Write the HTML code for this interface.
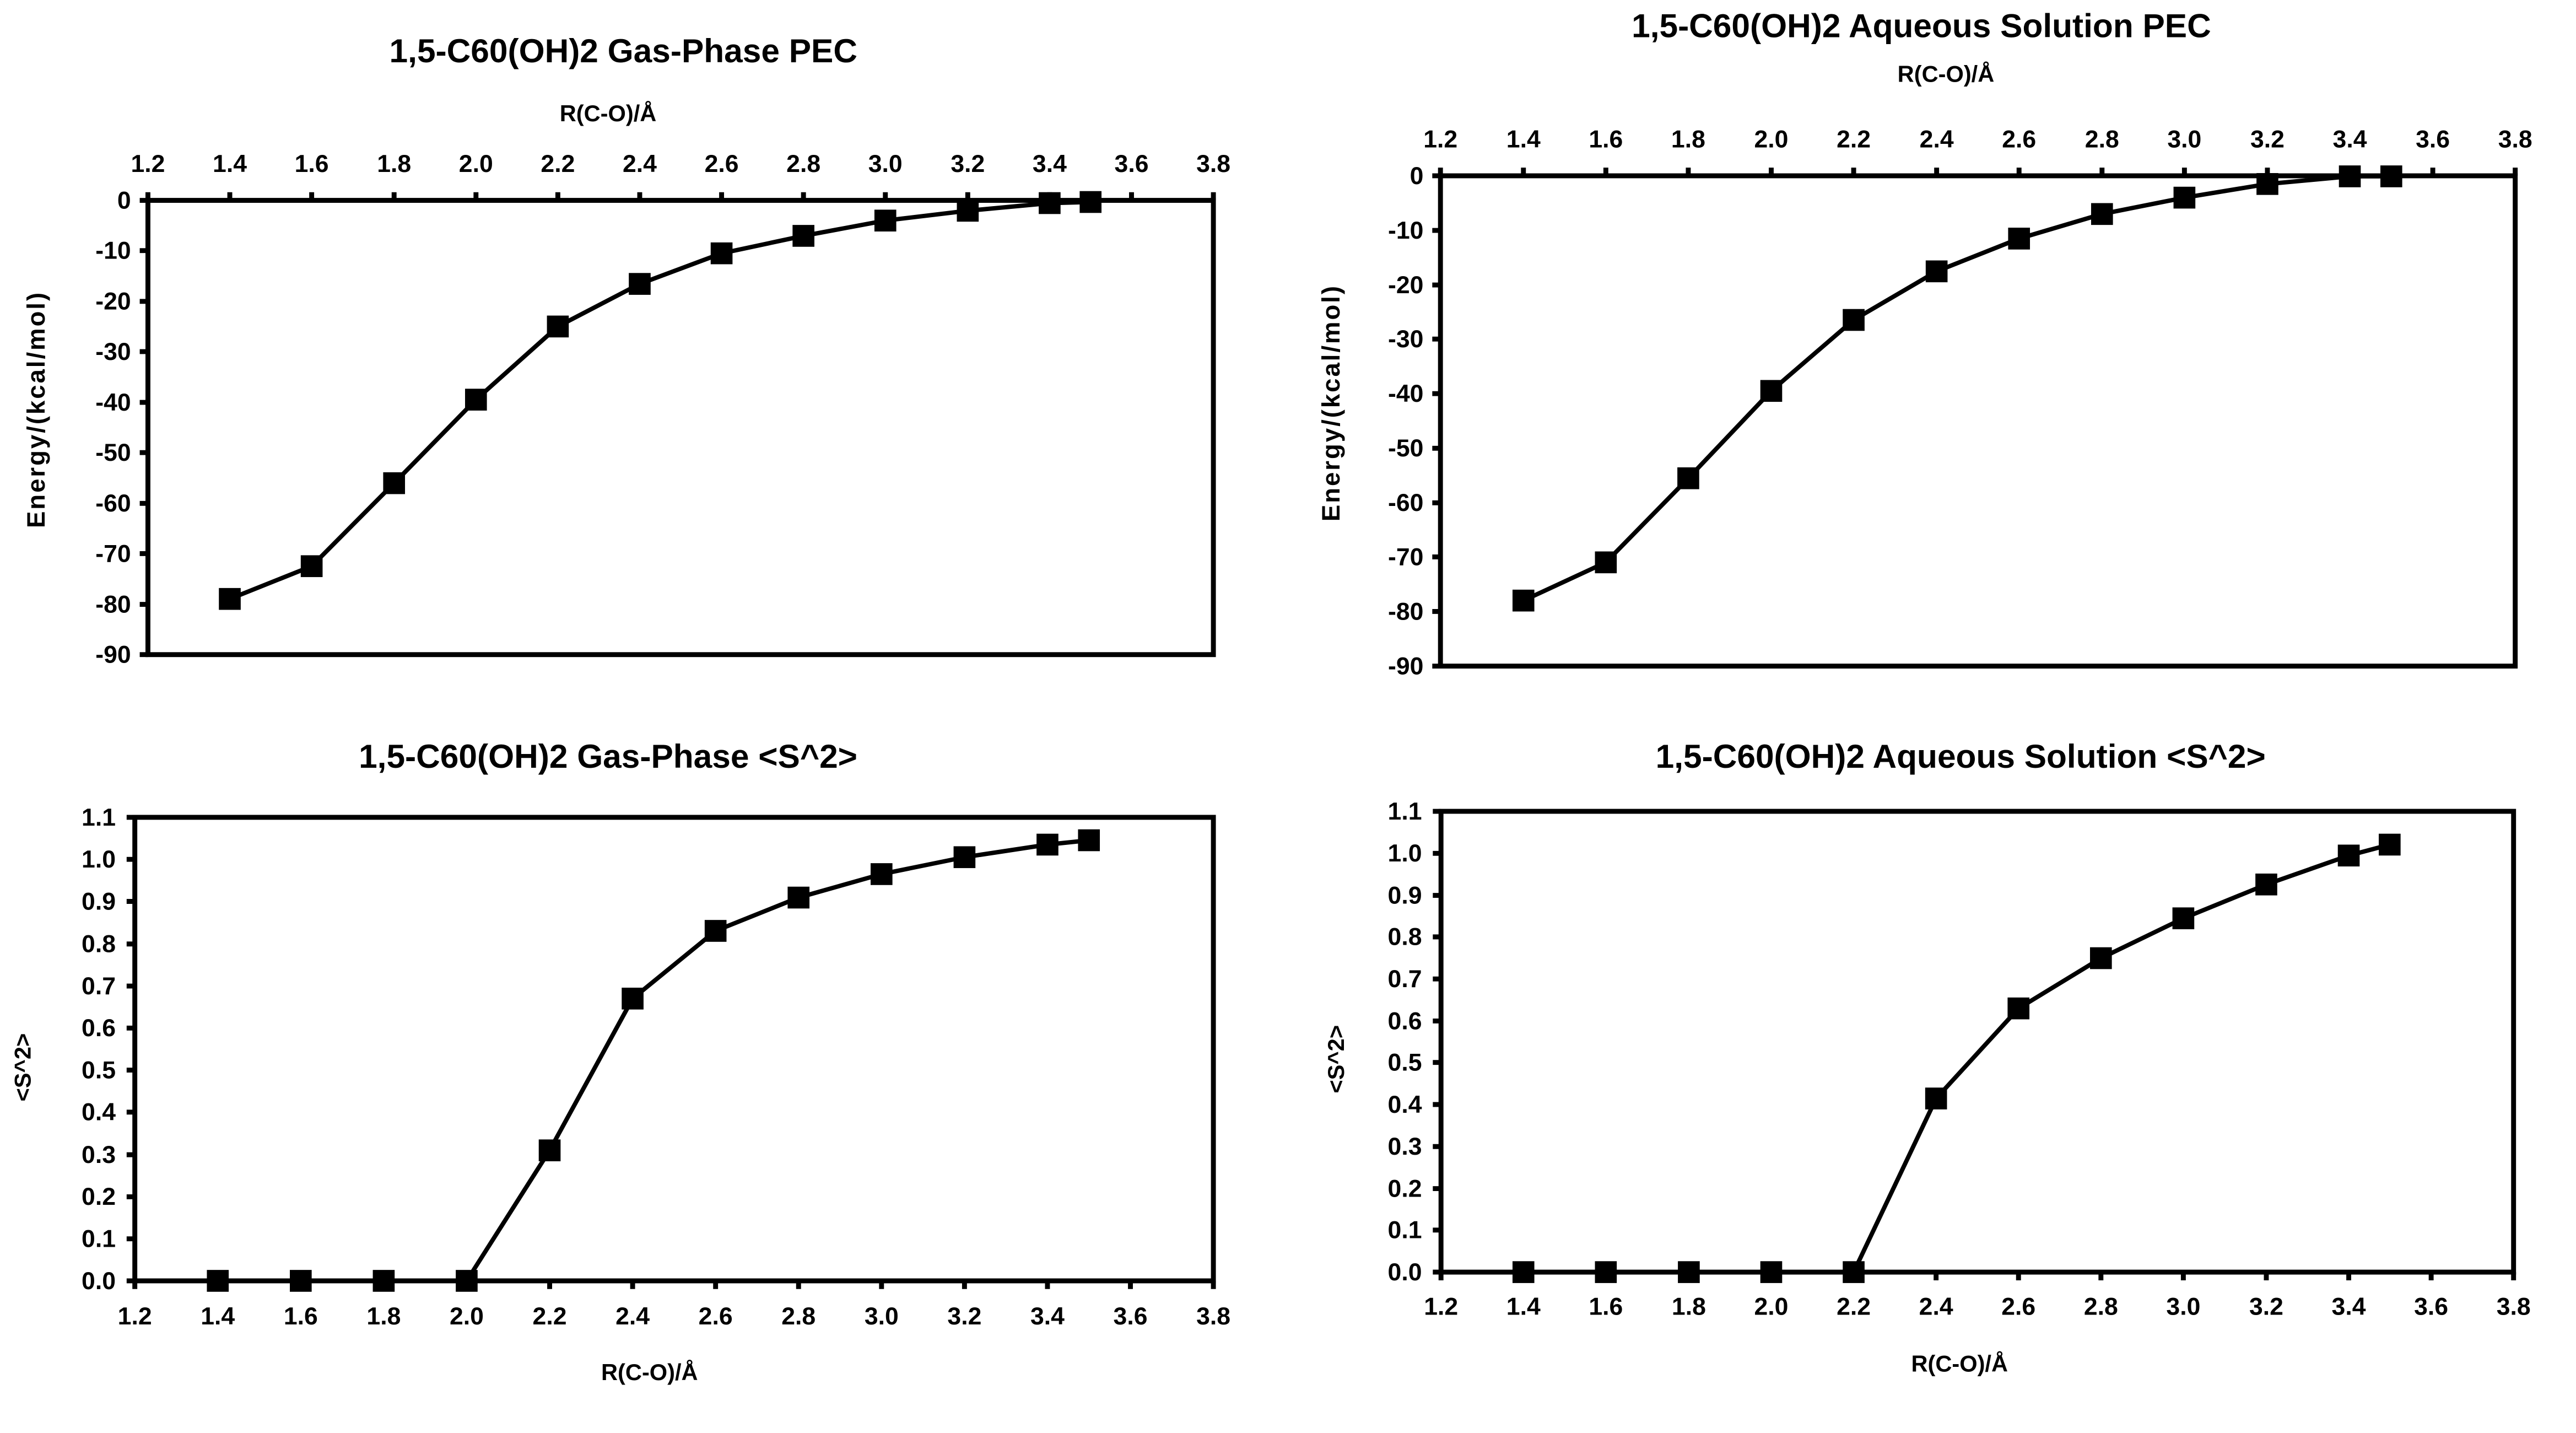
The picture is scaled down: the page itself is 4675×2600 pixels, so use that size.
<!DOCTYPE html>
<html><head><meta charset="utf-8"><style>
html,body{margin:0;padding:0;background:#fff;}
svg{display:block;}
text{font-family:"Liberation Sans",sans-serif;font-weight:bold;fill:#000;}
.t{font-size:61px;}
.k{font-size:45px;}
.a{font-size:42px;}
.e{font-size:46px;letter-spacing:3px;}
</style></head><body>
<svg width="4675" height="2600" viewBox="0 0 4675 2600" xmlns="http://www.w3.org/2000/svg">
<defs><rect id="m" x="-20" y="-20" width="40" height="40" fill="#000"/></defs>
<g transform="scale(0.9906)">
<!-- TL -->
<text class="t" x="1142" y="114" text-anchor="middle">1,5-C60(OH)2 Gas-Phase PEC</text>
<text class="a" x="1114" y="222" text-anchor="middle">R(C-O)/Å</text>
<g class="k" text-anchor="middle">
<text x="271" y="315">1.2</text><text x="421" y="315">1.4</text><text x="571" y="315">1.6</text><text x="722" y="315">1.8</text><text x="872" y="315">2.0</text><text x="1022" y="315">2.2</text><text x="1172" y="315">2.4</text><text x="1322" y="315">2.6</text><text x="1472" y="315">2.8</text><text x="1622" y="315">3.0</text><text x="1773" y="315">3.2</text><text x="1923" y="315">3.4</text><text x="2073" y="315">3.6</text><text x="2223" y="315">3.8</text>
</g>
<g class="k" text-anchor="end">
<text x="240" y="382">0</text><text x="240" y="474">-10</text><text x="240" y="567">-20</text><text x="240" y="659">-30</text><text x="240" y="752">-40</text><text x="240" y="844">-50</text><text x="240" y="937">-60</text><text x="240" y="1029">-70</text><text x="240" y="1122">-80</text><text x="240" y="1214">-90</text>
</g>
<text class="e" transform="translate(82,750) rotate(-90)" text-anchor="middle">Energy/(kcal/mol)</text>
<g stroke="#000" stroke-width="9">
<path d="M271 352V367M421 352V367M571 352V367M722 352V367M872 352V367M1022 352V367M1172 352V367M1322 352V367M1472 352V367M1622 352V367M1773 352V367M1923 352V367M2073 352V367M2223 352V367"/>
<path d="M256 367H271M256 459H271M256 552H271M256 644H271M256 737H271M256 829H271M256 922H271M256 1014H271M256 1107H271M256 1199H271"/>
</g>
<rect x="271" y="367" width="1952" height="832" fill="none" stroke="#000" stroke-width="9"/>
<polyline fill="none" stroke="#000" stroke-width="8" points="421,1097 571,1037 722,885 872,732 1022,598 1172,520 1322,464 1472,432 1622,404 1773,386 1923,372 1998,370"/>
<use href="#m" x="421" y="1097"/><use href="#m" x="571" y="1037"/><use href="#m" x="722" y="885"/><use href="#m" x="872" y="732"/><use href="#m" x="1022" y="598"/><use href="#m" x="1172" y="520"/><use href="#m" x="1322" y="464"/><use href="#m" x="1472" y="432"/><use href="#m" x="1622" y="404"/><use href="#m" x="1773" y="386"/><use href="#m" x="1923" y="372"/><use href="#m" x="1998" y="370"/>

<!-- TR -->
<text class="t" x="3520" y="68" text-anchor="middle">1,5-C60(OH)2 Aqueous Solution PEC</text>
<text class="a" x="3565" y="150" text-anchor="middle">R(C-O)/Å</text>
<g class="k" text-anchor="middle">
<text x="2639" y="270">1.2</text><text x="2791" y="270">1.4</text><text x="2942" y="270">1.6</text><text x="3093" y="270">1.8</text><text x="3245" y="270">2.0</text><text x="3396" y="270">2.2</text><text x="3548" y="270">2.4</text><text x="3699" y="270">2.6</text><text x="3851" y="270">2.8</text><text x="4002" y="270">3.0</text><text x="4154" y="270">3.2</text><text x="4305" y="270">3.4</text><text x="4457" y="270">3.6</text><text x="4608" y="270">3.8</text>
</g>
<g class="k" text-anchor="end">
<text x="2608" y="337">0</text><text x="2608" y="437">-10</text><text x="2608" y="537">-20</text><text x="2608" y="636">-30</text><text x="2608" y="736">-40</text><text x="2608" y="836">-50</text><text x="2608" y="936">-60</text><text x="2608" y="1035">-70</text><text x="2608" y="1135">-80</text><text x="2608" y="1235">-90</text>
</g>
<text class="e" transform="translate(2454,738) rotate(-90)" text-anchor="middle">Energy/(kcal/mol)</text>
<g stroke="#000" stroke-width="9">
<path d="M2639 307V322M2791 307V322M2942 307V322M3093 307V322M3245 307V322M3396 307V322M3548 307V322M3699 307V322M3851 307V322M4002 307V322M4154 307V322M4305 307V322M4457 307V322M4608 307V322"/>
<path d="M2624 322H2639M2624 422H2639M2624 522H2639M2624 621H2639M2624 721H2639M2624 821H2639M2624 921H2639M2624 1020H2639M2624 1120H2639M2624 1220H2639"/>
</g>
<rect x="2639" y="322" width="1969" height="898" fill="none" stroke="#000" stroke-width="9"/>
<polyline fill="none" stroke="#000" stroke-width="8" points="2791,1100 2942,1030 3093,876 3245,716 3396,586 3548,497 3699,437 3851,392 4002,362 4154,337 4305,323 4381,323"/>
<use href="#m" x="2791" y="1100"/><use href="#m" x="2942" y="1030"/><use href="#m" x="3093" y="876"/><use href="#m" x="3245" y="716"/><use href="#m" x="3396" y="586"/><use href="#m" x="3548" y="497"/><use href="#m" x="3699" y="437"/><use href="#m" x="3851" y="392"/><use href="#m" x="4002" y="362"/><use href="#m" x="4154" y="337"/><use href="#m" x="4305" y="323"/><use href="#m" x="4381" y="323"/>

<!-- BL -->
<text class="t" x="1114" y="1406" text-anchor="middle">1,5-C60(OH)2 Gas-Phase &lt;S^2&gt;</text>
<g class="k" text-anchor="end">
<text x="212" y="2361">0.0</text><text x="212" y="2284">0.1</text><text x="212" y="2207">0.2</text><text x="212" y="2130">0.3</text><text x="212" y="2052">0.4</text><text x="212" y="1975">0.5</text><text x="212" y="1898">0.6</text><text x="212" y="1821">0.7</text><text x="212" y="1744">0.8</text><text x="212" y="1666">0.9</text><text x="212" y="1589">1.0</text><text x="212" y="1512">1.1</text>
</g>
<g class="k" text-anchor="middle">
<text x="247" y="2426">1.2</text><text x="399" y="2426">1.4</text><text x="551" y="2426">1.6</text><text x="703" y="2426">1.8</text><text x="855" y="2426">2.0</text><text x="1007" y="2426">2.2</text><text x="1159" y="2426">2.4</text><text x="1311" y="2426">2.6</text><text x="1463" y="2426">2.8</text><text x="1615" y="2426">3.0</text><text x="1767" y="2426">3.2</text><text x="1919" y="2426">3.4</text><text x="2071" y="2426">3.6</text><text x="2223" y="2426">3.8</text>
</g>
<text class="a" x="1190" y="2528" text-anchor="middle">R(C-O)/Å</text>
<text class="a" transform="translate(56,1955) rotate(-90)" text-anchor="middle">&lt;S^2&gt;</text>
<g stroke="#000" stroke-width="9">
<path d="M247 2346V2361M399 2346V2361M551 2346V2361M703 2346V2361M855 2346V2361M1007 2346V2361M1159 2346V2361M1311 2346V2361M1463 2346V2361M1615 2346V2361M1767 2346V2361M1919 2346V2361M2071 2346V2361M2223 2346V2361"/>
<path d="M232 2346H247M232 2269H247M232 2192H247M232 2115H247M232 2037H247M232 1960H247M232 1883H247M232 1806H247M232 1729H247M232 1651H247M232 1574H247M232 1497H247"/>
</g>
<rect x="247" y="1497" width="1976" height="849" fill="none" stroke="#000" stroke-width="9"/>
<polyline fill="none" stroke="#000" stroke-width="8" points="399,2346 551,2346 703,2346 855,2346 1007,2107 1159,1829 1311,1705 1463,1644 1615,1601 1767,1570 1919,1547 1995,1539"/>
<use href="#m" x="399" y="2346"/><use href="#m" x="551" y="2346"/><use href="#m" x="703" y="2346"/><use href="#m" x="855" y="2346"/><use href="#m" x="1007" y="2107"/><use href="#m" x="1159" y="1829"/><use href="#m" x="1311" y="1705"/><use href="#m" x="1463" y="1644"/><use href="#m" x="1615" y="1601"/><use href="#m" x="1767" y="1570"/><use href="#m" x="1919" y="1547"/><use href="#m" x="1995" y="1539"/>

<!-- BR -->
<text class="t" x="3592" y="1406" text-anchor="middle">1,5-C60(OH)2 Aqueous Solution &lt;S^2&gt;</text>
<g class="k" text-anchor="end">
<text x="2605" y="2345">0.0</text><text x="2605" y="2268">0.1</text><text x="2605" y="2192">0.2</text><text x="2605" y="2115">0.3</text><text x="2605" y="2038">0.4</text><text x="2605" y="1961">0.5</text><text x="2605" y="1885">0.6</text><text x="2605" y="1808">0.7</text><text x="2605" y="1731">0.8</text><text x="2605" y="1655">0.9</text><text x="2605" y="1578">1.0</text><text x="2605" y="1501">1.1</text>
</g>
<g class="k" text-anchor="middle">
<text x="2640" y="2408">1.2</text><text x="2791" y="2408">1.4</text><text x="2942" y="2408">1.6</text><text x="3094" y="2408">1.8</text><text x="3245" y="2408">2.0</text><text x="3396" y="2408">2.2</text><text x="3547" y="2408">2.4</text><text x="3698" y="2408">2.6</text><text x="3849" y="2408">2.8</text><text x="4000" y="2408">3.0</text><text x="4152" y="2408">3.2</text><text x="4303" y="2408">3.4</text><text x="4454" y="2408">3.6</text><text x="4605" y="2408">3.8</text>
</g>
<text class="a" x="3590" y="2512" text-anchor="middle">R(C-O)/Å</text>
<text class="a" transform="translate(2462,1940) rotate(-90)" text-anchor="middle">&lt;S^2&gt;</text>
<g stroke="#000" stroke-width="9">
<path d="M2640 2330V2345M2791 2330V2345M2942 2330V2345M3094 2330V2345M3245 2330V2345M3396 2330V2345M3547 2330V2345M3698 2330V2345M3849 2330V2345M4000 2330V2345M4152 2330V2345M4303 2330V2345M4454 2330V2345M4605 2330V2345"/>
<path d="M2625 2330H2640M2625 2253H2640M2625 2177H2640M2625 2100H2640M2625 2023H2640M2625 1946H2640M2625 1870H2640M2625 1793H2640M2625 1716H2640M2625 1640H2640M2625 1563H2640M2625 1486H2640"/>
</g>
<rect x="2640" y="1486" width="1965" height="844" fill="none" stroke="#000" stroke-width="9"/>
<polyline fill="none" stroke="#000" stroke-width="8" points="2791,2330 2942,2330 3094,2330 3245,2330 3396,2330 3547,2012 3698,1847 3849,1755 4000,1682 4152,1620 4303,1567 4378,1547"/>
<use href="#m" x="2791" y="2330"/><use href="#m" x="2942" y="2330"/><use href="#m" x="3094" y="2330"/><use href="#m" x="3245" y="2330"/><use href="#m" x="3396" y="2330"/><use href="#m" x="3547" y="2012"/><use href="#m" x="3698" y="1847"/><use href="#m" x="3849" y="1755"/><use href="#m" x="4000" y="1682"/><use href="#m" x="4152" y="1620"/><use href="#m" x="4303" y="1567"/><use href="#m" x="4378" y="1547"/>
</g>
</svg>
</body></html>
